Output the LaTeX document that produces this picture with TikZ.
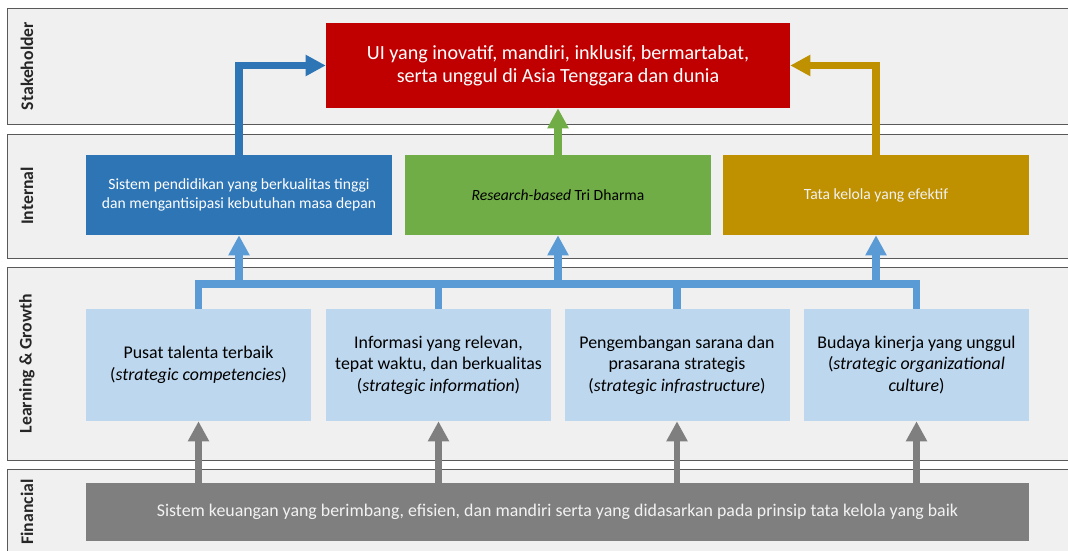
\documentclass[tikz,border=0pt]{standalone}
\usepackage{fontspec}
\setmainfont{Carlito}
\usetikzlibrary{arrows.meta}
\definecolor{uired}{HTML}{C00000}
\definecolor{uiblue}{HTML}{2E75B6}
\definecolor{uigreen}{HTML}{70AD47}
\definecolor{uigold}{HTML}{BF9000}
\definecolor{lgblue}{HTML}{BDD7EE}
\definecolor{treeblue}{HTML}{5B9BD5}
\definecolor{fingray}{HTML}{7F7F7F}
\definecolor{bandgray}{HTML}{F0F0F0}

\begin{document}
\begin{tikzpicture}
     [
     band/.style={rectangle, draw=black!65, fill=bandgray, thin, minimum width=26.72cm},
     bandlabel/.style={rotate=90, font=\fontsize{12.6}{14}\selectfont\bfseries, text=black!85},
     visibox/.style={rectangle, fill=uired, text=white, align=center, minimum width=11.6cm, minimum height=2.125cm, font=\fontsize{14.3}{16.6}\selectfont},
     intbox/.style={rectangle, align=center, minimum width=7.65cm, minimum height=2cm, font=\fontsize{11.1}{13.2}\selectfont},
     lgbox/.style={rectangle, fill=lgblue, align=center, minimum width=5.625cm, minimum height=2.8cm, font=\fontsize{12.7}{15.4}\selectfont},
     finbox/.style={rectangle, fill=fingray, text=black!5, minimum width=23.575cm, minimum height=1.45cm, font=\fontsize{12.7}{15}\selectfont},
     bigarrow/.style={line width=5pt, -{Triangle[length=0.5cm, width=0.5cm]}},
     treeline/.style={draw=treeblue, line width=5pt},
     treearrow/.style={draw=treeblue, line width=5pt, -{Triangle[length=0.5cm, width=0.5cm]}},
     grayarrow/.style={draw=fingray, line width=4.3pt, -{Triangle[length=0.5cm, width=0.5cm]}},
     ]
 \useasboundingbox (0,0) rectangle (26.7,13.775);
 % perspective bands
 \node at (13.54,12.125) [band, minimum height=2.9cm] (bstake) {};
 \node at (13.54,8.875) [band, minimum height=3.1cm] (bint) {};
 \node at (13.54,4.6875) [band, minimum height=4.825cm] (blg) {};
 \node at (13.54,0.875) [band, minimum height=2.35cm] (bfin) {};
 \node at (0.675,12.125) [bandlabel] (lstake) {Stakeholder};
 \node at (0.675,8.875) [bandlabel] (lint) {Internal};
 \node at (0.675,4.6875) [bandlabel] (llg) {Learning \& Growth};
 \node at (0.675,0.975) [bandlabel] (lfin) {Financial};
 % objectives
 \node at (13.95,12.1375) [visibox] (visi) {UI yang inovatif, mandiri, inklusif, bermartabat,\\serta unggul di Asia Tenggara dan dunia};
 \node at (5.975,8.9) [intbox, fill=uiblue, text=white] (sistem) {Sistem pendidikan yang berkualitas tinggi\\dan mengantisipasi kebutuhan masa depan};
 \node at (13.95,8.9) [intbox, fill=uigreen, text=black] (riset) {\textit{Research-based} Tri Dharma};
 \node at (21.9,8.9) [intbox, fill=uigold, text=black!5] (tata) {Tata kelola yang efektif};
 \node at (4.9625,4.65) [lgbox] (pusat) {Pusat talenta terbaik\\(\textit{strategic competencies})};
 \node at (10.9625,4.65) [lgbox] (info) {Informasi yang relevan,\\tepat waktu, dan berkualitas\\(\textit{strategic information})};
 \node at (16.925,4.65) [lgbox] (sarana) {Pengembangan sarana dan\\prasarana strategis\\(\textit{strategic infrastructure})};
 \node at (22.9125,4.65) [lgbox] (budaya) {Budaya kinerja yang unggul\\(\textit{strategic organizational}\\\textit{culture})};
 \node at (13.9375,0.975) [finbox] (keu) {Sistem keuangan yang berimbang, efisien, dan mandiri serta yang didasarkan pada prinsip tata kelola yang baik};
 % links
 \draw[bigarrow, draw=uiblue] (sistem.north) |- (visi.west);
 \draw[bigarrow, draw=uigreen] (riset.north) -- (visi.south);
 \draw[bigarrow, draw=uigold] (tata.north) |- (visi.east);
 \coordinate (junc) at (0,6.675);
 \draw[treeline] (pusat.north) -- (pusat.north |- junc) -- (budaya.north |- junc) -- (budaya.north);
 \draw[treeline] (info.north) -- (info.north |- junc);
 \draw[treeline] (sarana.north) -- (sarana.north |- junc);
 \draw[treearrow] (sistem.south |- junc) -- (sistem.south);
 \draw[treearrow] (riset.south |- junc) -- (riset.south);
 \draw[treearrow] (tata.south |- junc) -- (tata.south);
 \draw[grayarrow] (pusat.south |- keu.north) -- (pusat.south);
 \draw[grayarrow] (info.south |- keu.north) -- (info.south);
 \draw[grayarrow] (sarana.south |- keu.north) -- (sarana.south);
 \draw[grayarrow] (budaya.south |- keu.north) -- (budaya.south);
 \end{tikzpicture}
\end{document}
